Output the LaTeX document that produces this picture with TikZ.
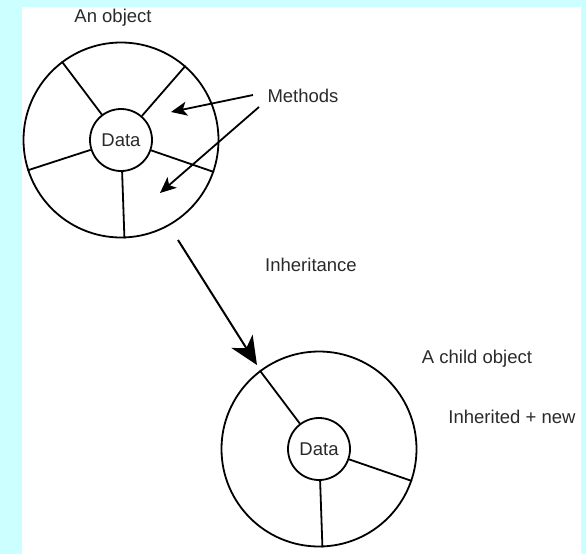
\documentclass[tikz,border=0pt]{standalone}
\usepackage{fontspec}
\setmainfont{Liberation Sans}
\usetikzlibrary{arrows.meta}
\definecolor{pagecyan}{HTML}{CCFFFF}
\definecolor{inkgrey}{HTML}{2A2A2A}
\begin{document}
\begin{tikzpicture}[x=1pt,y=-1pt,
  line width=1.8pt,
  ring/.style={draw,circle,minimum size=195pt,inner sep=0pt},
  core/.style={draw,circle,fill=white,minimum size=62pt,inner sep=0pt,
    font=\fontsize{18.5}{20}\selectfont,text=inkgrey},
  label/.style={inner sep=0pt,font=\fontsize{18.5}{20}\selectfont,text=inkgrey},
  spoke/.style={line width=1.8pt},
  pointer/.style={line width=1.8pt,-{Stealth[length=16pt,width=14pt,inset=4pt]}},
  inherit/.style={line width=2pt,-{Stealth[length=28pt,width=25pt,inset=8pt]}}]
  % page background and white sheet
  \fill[pagecyan] (0,0) rectangle (586,554);
  \fill[white] (22,7) rectangle (581,554);
  \useasboundingbox (0,0) rectangle (586,554);

  % parent object
  \node[ring] (obj) at (121,140) {};
  \node[core] (objdata) at (121,140) {Data};
  \foreach \a in {127,49,-19,-88,198}
    \draw[spoke] (objdata.\a) -- (obj.\a);

  % child object
  \node[ring] (child) at (319,449) {};
  \node[core] (childdata) at (319,449) {Data};
  \foreach \a in {127,-19,-88}
    \draw[spoke] (childdata.\a) -- (child.\a);

  % labels
  \node[label] (objlabel) at (113,18) {An object};
  \node[label] (methods) at (303,96) {Methods};
  \node[label] (inh) at (311,265) {Inheritance};
  \node[label] (childlabel) at (477,359) {A child object};
  \node[label] (newlabel) at (512,417) {Inherited + new};

  % method pointers
  \coordinate (m1from) at (253,95);
  \coordinate (m1to) at (171,112);
  \coordinate (m2from) at (259,107);
  \coordinate (m2to) at (160,193);
  \draw[pointer] (m1from) -- (m1to);
  \draw[pointer] (m2from) -- (m2to);

  % inheritance arrow
  \coordinate (inhfrom) at (178,240);
  \coordinate (inhto) at (257,365);
  \draw[inherit] (inhfrom) -- (inhto);
\end{tikzpicture}
\end{document}
